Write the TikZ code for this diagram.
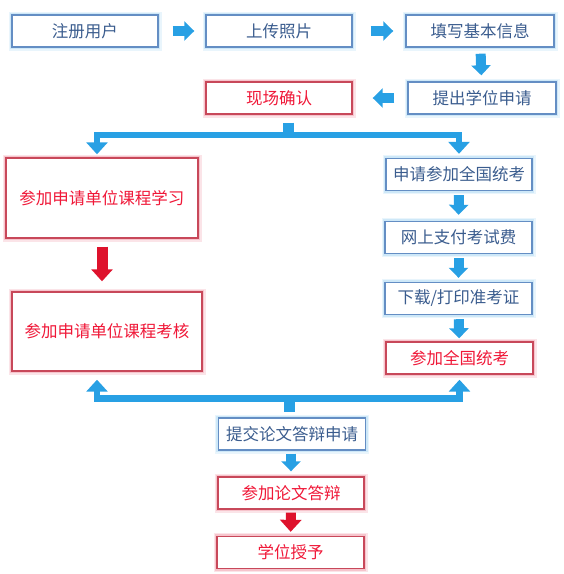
\documentclass[tikz,border=0pt]{standalone}
\usepackage{fontspec}
\newfontfamily\cjk{Noto Sans CJK SC}
\usetikzlibrary{arrows.meta}

\definecolor{boxblue}{RGB}{100,142,196}
\definecolor{glowblue}{RGB}{206,232,248}
\definecolor{txtblue}{RGB}{58,92,142}
\definecolor{boxred}{RGB}{200,72,90}
\definecolor{glowred}{RGB}{246,196,204}
\definecolor{txtred}{RGB}{240,24,56}
\definecolor{arrblue}{RGB}{40,160,228}
\definecolor{arrred}{RGB}{222,18,44}

\tikzset{
  bluebox/.style={draw=boxblue, line width=1.4pt, fill=white, text=txtblue,
    inner sep=0pt, preaction={draw=glowblue!45, line width=7pt},
    preaction={draw=glowblue, line width=4.5pt}},
  redbox/.style={draw=boxred, line width=1.4pt, fill=white, text=txtred,
    inner sep=0pt, preaction={draw=glowred!45, line width=7pt},
    preaction={draw=glowred, line width=4.5pt}},
  blockarrow/.style={draw=arrblue, line width=10pt,
    -{Triangle[width=19pt,length=10pt]}},
  redarrow/.style={draw=arrred, line width=11pt,
    -{Triangle[width=21pt,length=12pt]}},
  barline/.style={draw=arrblue, line width=6.5pt, line join=miter,
    -{Triangle[width=21pt,length=12pt]}},
  stubline/.style={draw=arrblue, line width=11pt}
}

\begin{document}
\begin{tikzpicture}[x=1pt, y=-1pt, font=\cjk\fontsize{16.5}{18}\selectfont]
\useasboundingbox (0,0) rectangle (564,574);

% top row
\node (reg) at (85,31) [bluebox, minimum width=146pt, minimum height=32pt] {注册用户};
\node (photo) at (279,31) [bluebox, minimum width=146pt, minimum height=32pt] {上传照片};
\node (info) at (480,31) [bluebox, minimum width=148pt, minimum height=32pt] {填写基本信息};
\node (submit) at (482,98) [bluebox, minimum width=148pt, minimum height=32pt] {提出学位申请};
\node (confirm) at (279,98) [redbox, minimum width=146pt, minimum height=32pt] {现场确认};

\draw[blockarrow, shorten <=14pt, shorten >=11pt] (reg) -- (photo);
\draw[blockarrow, shorten <=18pt, shorten >=12pt] (photo) -- (info);
\draw[blockarrow, shorten <=6pt, shorten >=6pt] (info) -- (submit);
\draw[blockarrow, shorten <=13pt, shorten >=20pt] (submit) -- (confirm);

% left column
\node (study) at (102,198) [redbox, minimum width=192pt, minimum height=80pt] {参加申请单位课程学习};
\node (exam) at (107,331.5) [redbox, minimum width=190pt, minimum height=79pt] {参加申请单位课程考核};
\draw[redarrow, shorten <=8pt, shorten >=10pt] (study.south) -- (study.south |- exam.north);

% right column
\node (apply) at (459,174.5) [bluebox, minimum width=146pt, minimum height=32pt] {申请参加全国统考};
\node (pay) at (458.5,237.5) [bluebox, minimum width=147pt, minimum height=32pt] {网上支付考试费};
\node (ticket) at (458.5,298.5) [bluebox, minimum width=147pt, minimum height=32pt] {下载/打印准考证};
\node (nat) at (459.5,358) [redbox, minimum width=147pt, minimum height=32pt] {参加全国统考};

\draw[blockarrow, shorten <=4pt, shorten >=6pt] (apply) -- (pay);
\draw[blockarrow, shorten <=4pt, shorten >=4pt] (pay) -- (ticket);
\draw[blockarrow, shorten <=4pt, shorten >=3pt] (ticket) -- (nat);

% split after confirmation
\coordinate (topsplit) at (288.5,135);
\draw[stubline, shorten <=8pt, shorten >=3pt] (topsplit |- confirm.south) -- (topsplit);
\draw[barline, shorten >=3pt] (topsplit) -| ([xshift=-5pt]study.north);
\draw[barline, shorten >=4pt] (topsplit) -| (apply.north);

% merge before thesis
\coordinate (botsplit) at (289,398.5);
\draw[barline, shorten >=8pt] (botsplit) -| ([xshift=-10pt]exam.south);
\draw[barline, shorten >=5pt] (botsplit) -| (nat.south);

% bottom column
\node (thesis) at (292,434) [bluebox, minimum width=147pt, minimum height=32pt] {提交论文答辩申请};
\node (defense) at (291,493) [redbox, minimum width=146pt, minimum height=32pt] {参加论文答辩};
\node (degree) at (290.5,552.5) [redbox, minimum width=147pt, minimum height=32pt] {学位授予};

\draw[stubline, shorten <=3pt, shorten >=5pt] (botsplit) -- (botsplit |- thesis.north);
\draw[blockarrow, shorten <=3pt, shorten >=5pt] (thesis.south -| defense) -- (defense);
\draw[redarrow, line width=10pt, shorten <=3pt, shorten >=4pt] (defense) -- (degree);
\end{tikzpicture}
\end{document}
